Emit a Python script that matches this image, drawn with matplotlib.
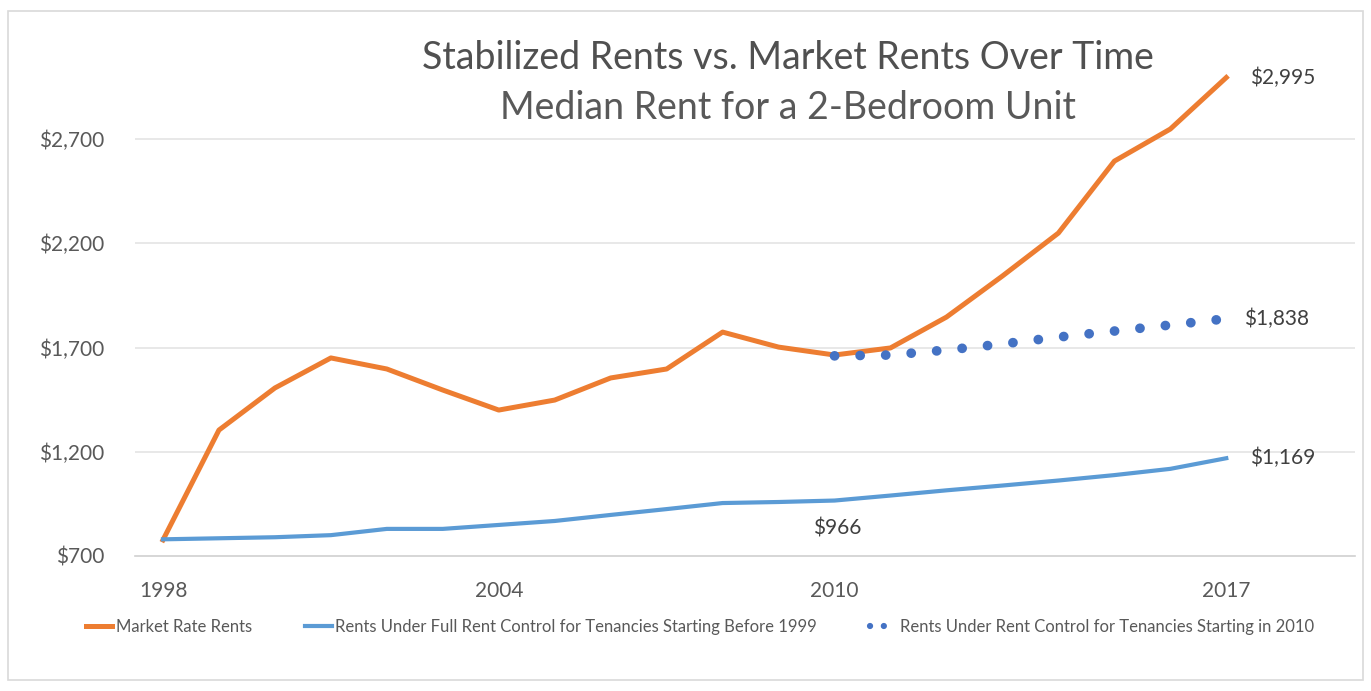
import numpy as np
import matplotlib
matplotlib.use("Agg")
from matplotlib import pyplot as plt
from matplotlib.patches import Rectangle
from matplotlib.lines import Line2D

years = list(range(1998, 2018))
market = [777, 1304, 1506, 1650, 1597, 1496, 1400, 1448, 1554, 1597,
          1774, 1702, 1664, 1698, 1846, 2043, 2249, 2594, 2748, 2995]
full_control = [780, 785, 790, 800, 830, 830, 849, 868, 897, 925,
                954, 959, 966, 990, 1015, 1038, 1062, 1088, 1118, 1169]
years_2010 = list(range(2010, 2018))
control_2010 = [1660, 1664, 1688, 1717, 1750, 1779, 1808, 1838]

y_ticks = [700, 1200, 1700, 2200, 2700]
y_labels = ['$700', '$1,200', '$1,700', '$2,200', '$2,700']
x_ticks = [1998, 2004, 2010, 2017]

ORANGE = '#ED7D31'
BLUE = '#5B9BD5'
DOTBLUE = '#4472C4'
GREY = '#595959'

plt.rcParams['font.family'] = ['Lato', 'DejaVu Sans']

fig = plt.figure(figsize=(13.71, 6.91), dpi=100)
# light frame around the chart
fig.patches.append(Rectangle((8/1371, 11/691), 1355/1371, 669/691, transform=fig.transFigure,
                             fill=False, edgecolor='#D9D9D9', lw=1.2))

ax = fig.add_axes([135/1371, 1 - 556/691, (1355 - 135)/1371, (556 - 40)/691])
ax.set_xlim(1997.5, 2019.3)
ax.set_ylim(700, 3175)

for spine in ['right', 'top', 'left']:
    ax.spines[spine].set_visible(False)
ax.spines['bottom'].set_color('#D0D0D0')
ax.spines['bottom'].set_linewidth(1.2)

for v in y_ticks[1:]:
    ax.axhline(v, color='#E4E4E4', lw=1.2, zorder=0)

l1, = ax.plot(years, market, color=ORANGE, lw=3.6, solid_joinstyle='round', label='Market Rate Rents', zorder=3)
l2, = ax.plot(years, full_control, color=BLUE, lw=3.0, solid_joinstyle='round',
              label='Rents Under Full Rent Control for Tenancies Starting Before 1999', zorder=3)
ax.plot(years_2010, control_2010, color=DOTBLUE, lw=7, linestyle=(0, (0.01, 2.62)),
        dash_capstyle='round', zorder=4)
# smaller dots for the legend key
l3 = Line2D([], [], color=DOTBLUE, lw=4.5, linestyle=(0, (0.01, 2.2)), dash_capstyle='round',
            label='Rents Under Rent Control for Tenancies Starting in 2010')

ax.set_yticks(y_ticks)
ax.set_yticklabels(y_labels, fontsize=15, color=GREY)
ax.set_xticks(x_ticks)
ax.set_xticklabels([str(x) for x in x_ticks], fontsize=15, color=GREY)
ax.tick_params(axis='x', length=0, pad=18)
ax.tick_params(axis='y', length=0, pad=22)

# value labels
ax.annotate('$2,995', (years[-1], market[-1]), xytext=(17, 0), textcoords='offset points',
            fontsize=15, color='#404040', va='center')
ax.annotate('$1,838', (years_2010[-1], control_2010[-1]), xytext=(13, 0), textcoords='offset points',
            fontsize=15, color='#404040', va='center')
ax.annotate('$1,169', (years[-1], full_control[-1]), xytext=(17, 0), textcoords='offset points',
            fontsize=15, color='#404040', va='center')
ax.annotate('$966', (2010, full_control[12]), xytext=(2, -20), textcoords='offset points',
            fontsize=15, color='#404040', ha='center', va='center')

fig.text(788/1371, 1 - 58/691, 'Stabilized Rents vs. Market Rents Over Time', fontsize=27,
         color='#505050', ha='center', va='center')
fig.text(788/1371, 1 - 108/691, 'Median Rent for a 2-Bedroom Unit', fontsize=27,
         color=GREY, ha='center', va='center')

fig.legend(handles=[l1, l2, l3], loc='center', bbox_to_anchor=(700/1371, 1 - 627/691), ncol=3,
           frameon=False, fontsize=12, labelcolor=GREY, handlelength=1.6, handletextpad=0.2,
           columnspacing=3.2)

fig.savefig('out.png', dpi=100)
